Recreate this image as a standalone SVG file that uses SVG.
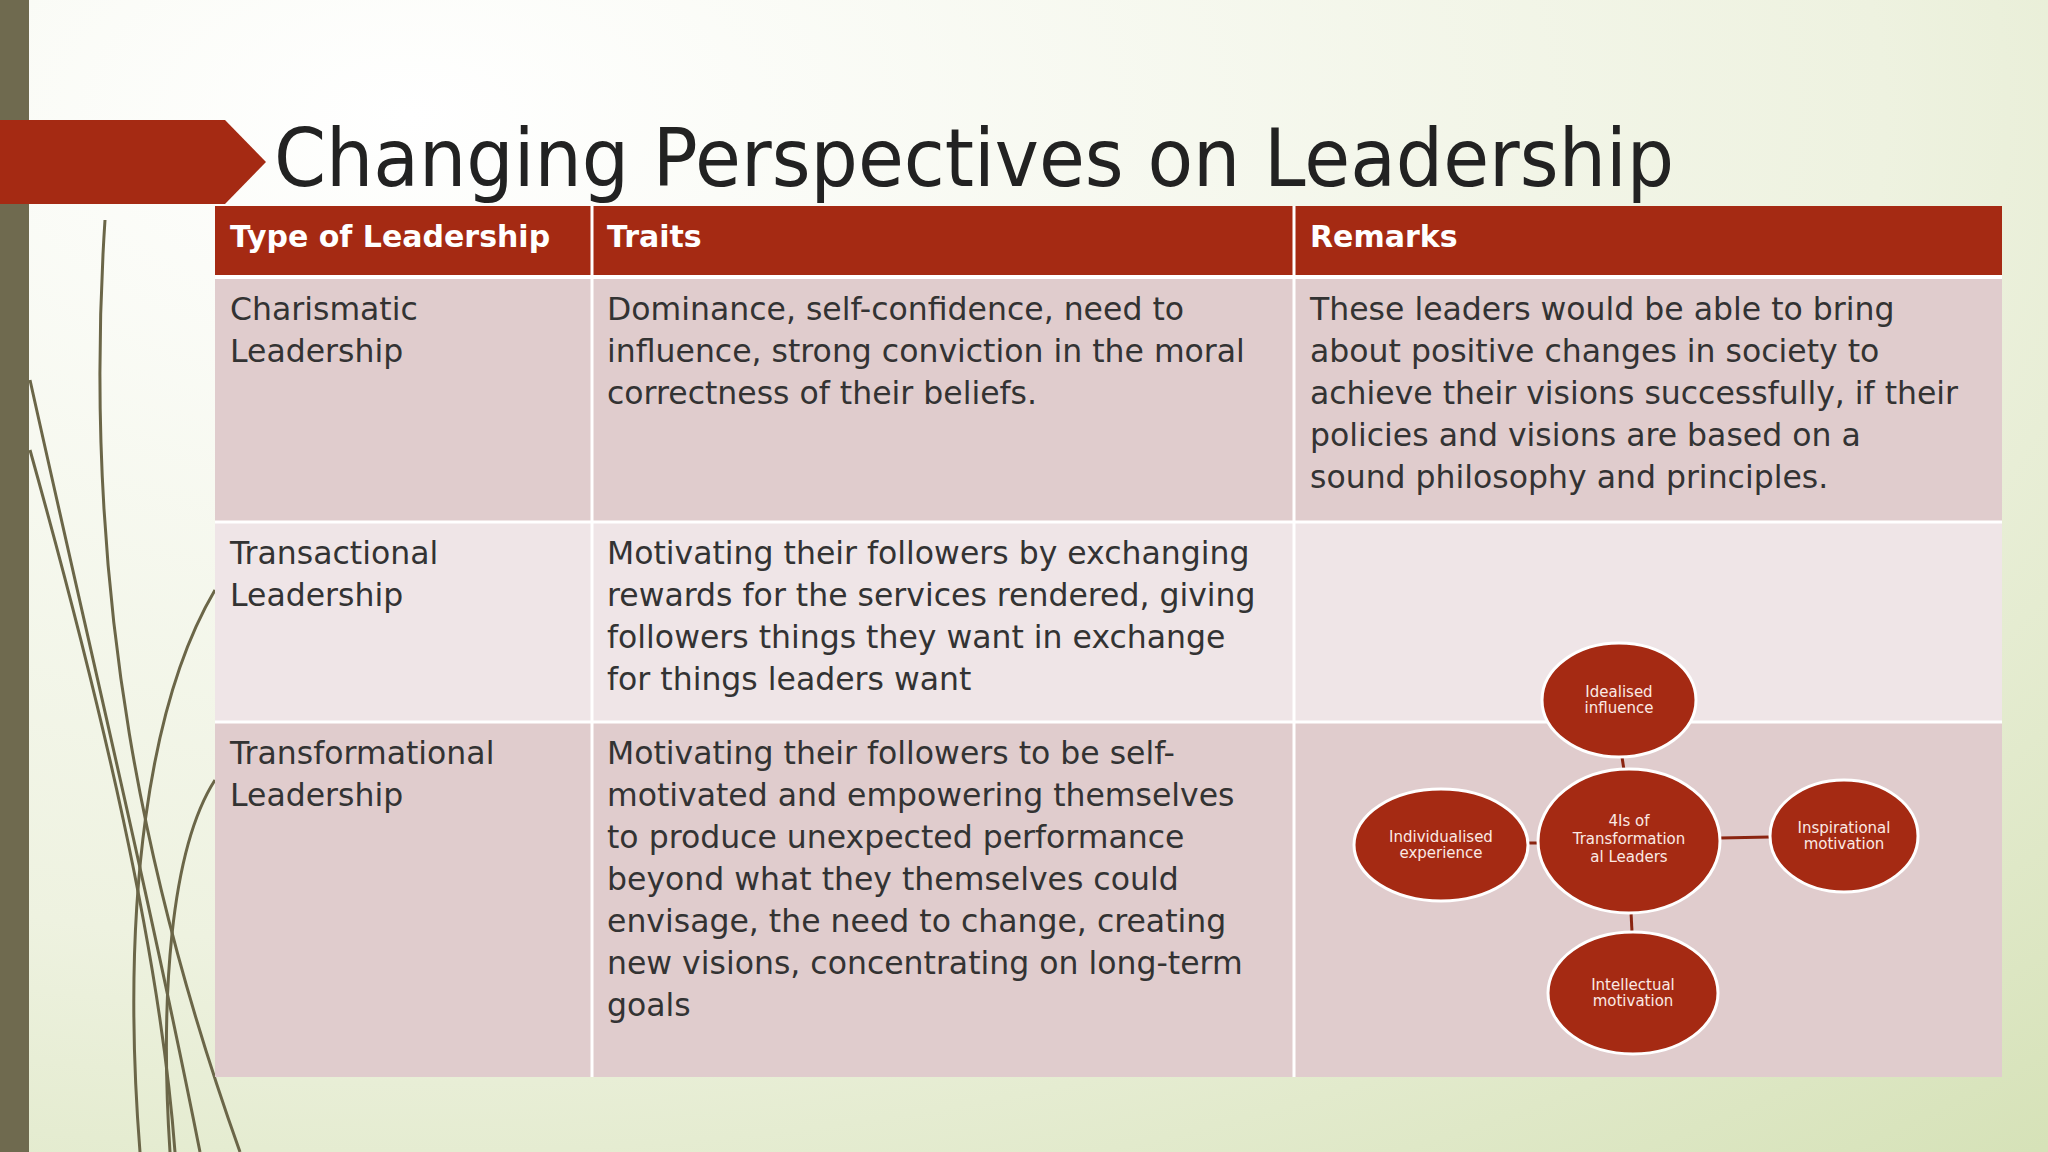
<svg xmlns="http://www.w3.org/2000/svg" width="2048" height="1152" viewBox="0 0 2048 1152">
<defs>
<radialGradient id="bg" cx="0.2" cy="0.1" r="1.2">
<stop offset="0" stop-color="#ffffff"/><stop offset="0.6" stop-color="#eef2e0"/><stop offset="1" stop-color="#d6e2b8"/>
</radialGradient>
</defs>
<style>
.t{font-family:"Century Gothic","DejaVu Sans","Liberation Sans",sans-serif;font-size:31.5px;fill:#333}
.h{font-family:"DejaVu Sans","Liberation Sans",sans-serif;font-size:30px;font-weight:bold;fill:#fff}
.c{fill:#a52a13;stroke:#fff;stroke-width:3}
.ct{font-family:"DejaVu Sans","Liberation Sans",sans-serif;font-size:15px;fill:#fbe9e4;text-anchor:middle}
.ln{stroke:#8a2410;stroke-width:3}
.deco{fill:none;stroke:#6b6648;stroke-width:3}
</style>
<rect width="2048" height="1152" fill="url(#bg)"/>
<g id="decor">
<path class="deco" d="M105 220 C80 600 150 900 240 1152"/>
<path class="deco" d="M30 380 C90 650 150 900 200 1152" stroke-width="5"/>
<path class="deco" d="M30 450 C100 700 160 950 175 1152" stroke="#9a9676"/>
<path class="deco" d="M215 780 C170 850 160 1000 170 1152" stroke="#b6b89a"/>
<path class="deco" d="M215 590 C150 700 120 900 140 1152" stroke="#c9ccb0" stroke-width="6"/>
<rect x="0" y="0" width="29" height="1152" fill="#6f6a4f"/>
</g>
<g id="title">
<path d="M0 120 H225 L266 162 L225 204 H0 Z" fill="#a52a13"/>
<text x="274" y="186" font-family="Century Gothic,'DejaVu Sans',sans-serif" font-size="80" fill="#222" textLength="1400" lengthAdjust="spacingAndGlyphs">Changing Perspectives on Leadership</text>
</g>
<g id="table">
<rect x="215" y="206" width="1787" height="70" fill="#a52a13"/>
<rect x="215" y="278" width="1787" height="243" fill="#e0cccd"/>
<rect x="215" y="523" width="1787" height="198" fill="#efe5e7"/>
<rect x="215" y="723" width="1787" height="354" fill="#e0cccd"/>
<g stroke="#fff" stroke-width="3"><line x1="592" y1="206" x2="592" y2="1077"/><line x1="1294" y1="206" x2="1294" y2="1077"/><line x1="215" y1="277" x2="2002" y2="277" stroke-width="4"/><line x1="215" y1="522" x2="2002" y2="522"/><line x1="215" y1="722" x2="2002" y2="722"/></g>
<text class="h" x="230" y="247">Type of Leadership</text>
<text class="h" x="607" y="247">Traits</text>
<text class="h" x="1310" y="247">Remarks</text>
<text class="t" x="230" y="320">Charismatic<tspan x="230" dy="42">Leadership</tspan></text>
<text class="t" x="607" y="320">Dominance, self-confidence, need to<tspan x="607" dy="42">influence, strong conviction in the moral</tspan><tspan x="607" dy="42">correctness of their beliefs.</tspan></text>
<text class="t" x="1310" y="320">These leaders would be able to bring<tspan x="1310" dy="42">about positive changes in society to</tspan><tspan x="1310" dy="42">achieve their visions successfully, if their</tspan><tspan x="1310" dy="42">policies and visions are based on a</tspan><tspan x="1310" dy="42">sound philosophy and principles.</tspan></text>
<text class="t" x="230" y="564">Transactional<tspan x="230" dy="42">Leadership</tspan></text>
<text class="t" x="607" y="564">Motivating their followers by exchanging<tspan x="607" dy="42">rewards for the services rendered, giving</tspan><tspan x="607" dy="42">followers things they want in exchange</tspan><tspan x="607" dy="42">for things leaders want</tspan></text>
<text class="t" x="230" y="764">Transformational<tspan x="230" dy="42">Leadership</tspan></text>
<text class="t" x="607" y="764">Motivating their followers to be self-<tspan x="607" dy="42">motivated and empowering themselves</tspan><tspan x="607" dy="42">to produce unexpected performance</tspan><tspan x="607" dy="42">beyond what they themselves could</tspan><tspan x="607" dy="42">envisage, the need to change, creating</tspan><tspan x="607" dy="42">new visions,  concentrating on long-term</tspan><tspan x="607" dy="42">goals</tspan></text>
</g>
<g id="connectors">
<line class="ln" x1="1622" y1="757" x2="1624" y2="770"/>
<line class="ln" x1="1528" y1="843" x2="1538" y2="843"/>
<line class="ln" x1="1720" y1="838" x2="1770" y2="837"/>
<line class="ln" x1="1631" y1="912" x2="1632" y2="932"/>
</g>
<g id="n-idealised"><ellipse class="c" cx="1619" cy="700" rx="77" ry="57"/><text class="ct" x="1619" y="697">Idealised<tspan x="1619" dy="16">influence</tspan></text></g>
<g id="n-center"><ellipse class="c" cx="1629" cy="841" rx="91" ry="72"/><text class="ct" x="1629" y="826" font-size="17">4Is of<tspan x="1629" dy="18">Transformation</tspan><tspan x="1629" dy="18">al Leaders</tspan></text></g>
<g id="n-individualised"><ellipse class="c" cx="1441" cy="845" rx="87" ry="56"/><text class="ct" x="1441" y="842">Individualised<tspan x="1441" dy="16">experience</tspan></text></g>
<g id="n-inspirational"><ellipse class="c" cx="1844" cy="836" rx="74" ry="56"/><text class="ct" x="1844" y="833">Inspirational<tspan x="1844" dy="16">motivation</tspan></text></g>
<g id="n-intellectual"><ellipse class="c" cx="1633" cy="993" rx="85" ry="61"/><text class="ct" x="1633" y="990">Intellectual<tspan x="1633" dy="16">motivation</tspan></text></g>
</svg>
